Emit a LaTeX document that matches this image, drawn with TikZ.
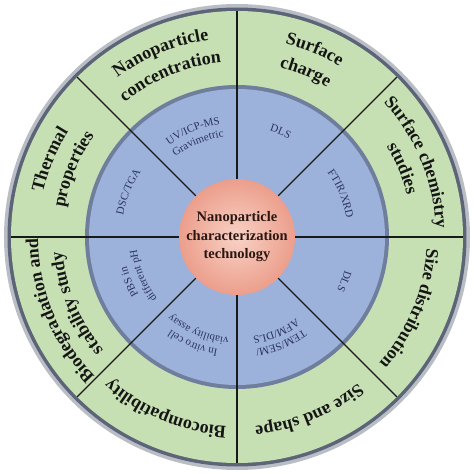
\documentclass[tikz,border=0pt]{standalone}
\usepackage{fontspec}
\setmainfont{Liberation Serif}
\usetikzlibrary{decorations.text}
\definecolor{ringgreen}{HTML}{C6E0B4}
\definecolor{ringblue}{HTML}{9DB2DB}
\definecolor{bandblue}{HTML}{6F7E9C}
\definecolor{rimdark}{HTML}{5C6578}
\definecolor{rimshadow}{HTML}{B9BDC5}
\definecolor{pinkin}{HTML}{F8D2C6}
\definecolor{pinkout}{HTML}{EC9E8B}
\definecolor{innerink}{HTML}{2A3260}
\definecolor{outerink}{HTML}{151515}
\definecolor{coreink}{HTML}{2A1712}
\newcommand{\myOuterFont}{\fontsize{18}{20}\selectfont\bfseries}
\newcommand{\myInnerFont}{\fontsize{11}{12}\selectfont}
\newcommand{\arclabel}[5]{%
  \path[decorate, decoration={text along path, text align=center,
    text color=#4, text={|#3|#5}}]
    ({#1+40}:#2) arc[start angle={#1+40}, end angle={#1-40}, radius=#2];}
\tikzset{divider/.style={draw=black!90, line width=1.1pt}}
\begin{document}
\begin{tikzpicture}
\useasboundingbox[fill=white] (-237pt,-237pt) rectangle (237pt,237pt);
% rings
\fill[rimshadow] (0,0) circle (233pt);
\fill[rimdark] (0,0) circle (229.5pt);
\fill[ringgreen] (0,0) circle (226pt);
\fill[bandblue] (0,0) circle (152pt);
\fill[ringblue] (0,0) circle (148pt);
% dividers
\foreach \a in {0,45,...,315}
  \draw[divider] (\a:58pt) -- (\a:226pt);
% centre
\shade[inner color=pinkin, outer color=pinkout] (0,0) circle (58pt);
\node[align=center, font=\fontsize{14.5}{18.5}\selectfont\bfseries, text=coreink] (core) at (0,0)
  {Nanoparticle\\characterization\\technology};
% outer labels
\arclabel{112.5}{199pt}{\myOuterFont}{outerink}{Nanoparticle}
\arclabel{112.5}{175pt}{\myOuterFont}{outerink}{concentration}
\arclabel{67.5}{199pt}{\myOuterFont}{outerink}{Surface}
\arclabel{67.5}{175pt}{\myOuterFont}{outerink}{charge}
\arclabel{22.5}{199pt}{\myOuterFont}{outerink}{Surface chemistry}
\arclabel{22.5}{175pt}{\myOuterFont}{outerink}{studies}
\arclabel{-22.5}{190pt}{\myOuterFont}{outerink}{Size distribution}
\arclabel{-67.5}{190pt}{\myOuterFont}{outerink}{Size and shape}
\arclabel{-112.5}{190pt}{\myOuterFont}{outerink}{Biocompatibility}
\arclabel{-157.5}{199pt}{\myOuterFont}{outerink}{Biodegradation and}
\arclabel{-157.5}{175pt}{\myOuterFont}{outerink}{stability study}
\arclabel{157.5}{199pt}{\myOuterFont}{outerink}{Thermal}
\arclabel{157.5}{175pt}{\myOuterFont}{outerink}{properties}
% inner labels
\arclabel{112.5}{114pt}{\myInnerFont}{innerink}{UV/ICP-MS}
\arclabel{112.5}{101pt}{\myInnerFont}{innerink}{Gravimetric}
\arclabel{67.5}{111pt}{\myInnerFont}{innerink}{DLS}
\arclabel{22.5}{111pt}{\myInnerFont}{innerink}{FTIR/XRD}
\arclabel{-22.5}{113pt}{\myInnerFont}{innerink}{DLS}
\arclabel{-67.5}{114pt}{\myInnerFont}{innerink}{TEM/SEM/}
\arclabel{-67.5}{101pt}{\myInnerFont}{innerink}{AFM/DLS}
\arclabel{-112.5}{114pt}{\myInnerFont}{innerink}{In vitro cell}
\arclabel{-112.5}{101pt}{\myInnerFont}{innerink}{viability assay}
\arclabel{-157.5}{114pt}{\myInnerFont}{innerink}{PBS in}
\arclabel{-157.5}{101pt}{\myInnerFont}{innerink}{different pH}
\arclabel{157.5}{116pt}{\myInnerFont}{innerink}{DSC/TGA}
\end{tikzpicture}
\end{document}
